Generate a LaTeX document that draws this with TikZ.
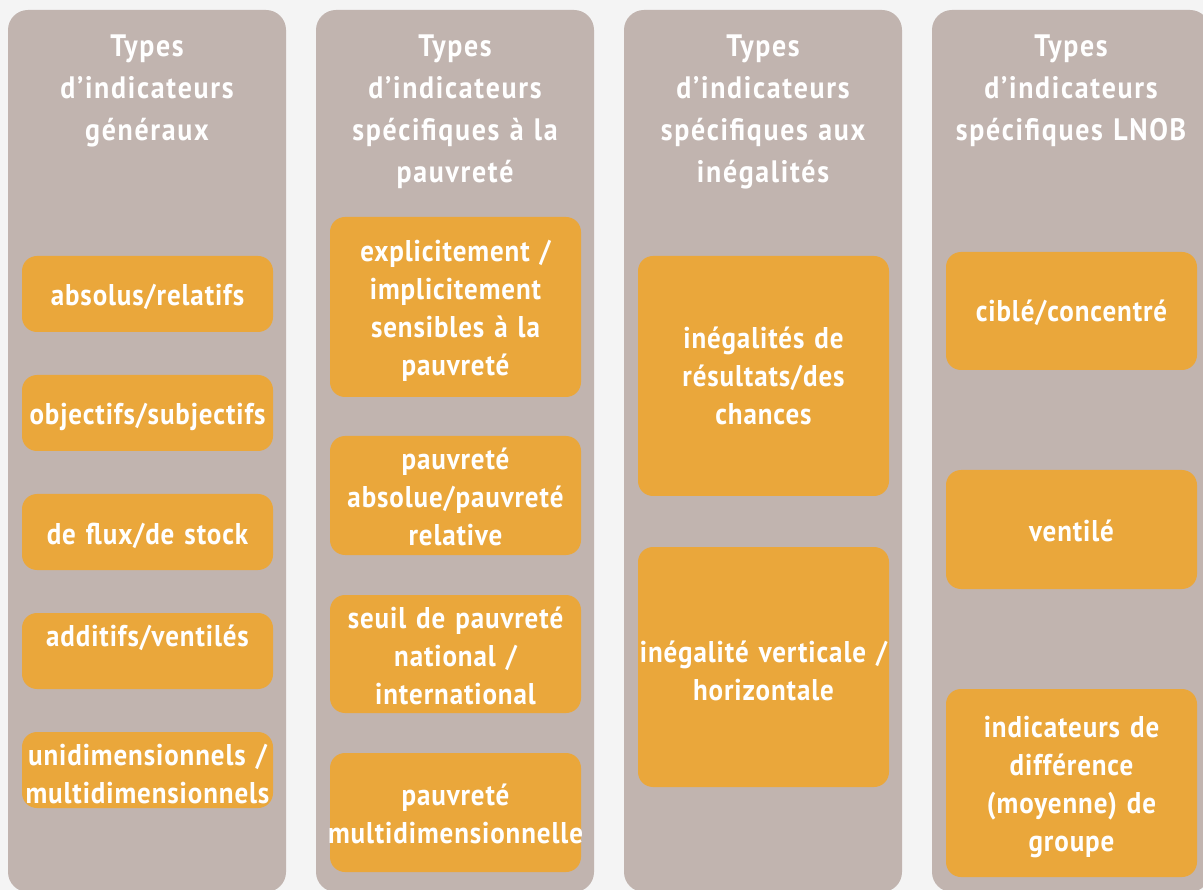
\documentclass[tikz,border=0pt]{standalone}
\usepackage{fontspec}
\setmainfont{PT Sans}[FakeStretch=0.9,LetterSpace=3]
\definecolor{pagebg}{HTML}{F4F4F4}
\definecolor{colbg}{HTML}{C1B4AF}
\definecolor{boxbg}{HTML}{EAA73B}
\begin{document}
\begin{tikzpicture}[x=1pt,y=-1pt,
  column/.style={fill=colbg,rounded corners=20pt},
  itembox/.style={fill=boxbg,rounded corners=15pt},
  headtxt/.style={anchor=base,text=white,text width=276pt,align=center,inner sep=0pt,
    font=\bfseries\fontsize{31}{41.7}\selectfont\addfontfeatures{LetterSpace=5.5}},
  itemtxt/.style={anchor=base,text=white,text width=262pt,align=center,inner sep=0pt,
    font=\bfseries\fontsize{30}{38}\selectfont}]
\fill[pagebg] (0,0) rectangle (1203,890);
\useasboundingbox (0,0) rectangle (1203,890);
% columns
\foreach \cx/\nm in {8/c1,316/c2,624/c3,932/c4}{
  \fill[column] (\cx,10) rectangle ++(278,882);
}
% headers
\node[headtxt] (h1) at (147,57) {Types\\d’indicateurs\\généraux};
\node[headtxt] (h2) at (455,57) {Types\\d’indicateurs\\spécifiques à la\\pauvreté};
\node[headtxt] (h3) at (763,57) {Types\\d’indicateurs\\spécifiques aux\\inégalités};
\node[headtxt] (h4) at (1071,57) {Types\\d’indicateurs\\spécifiques LNOB};
% column 1 boxes
\foreach \y/\nm in {256/a1,375/a2,494/a3,613/a4,732/a5}{
  \fill[itembox] (22,\y) rectangle ++(251,76);
}
\node[itemtxt] (t11) at (147.5,306) {absolus/relatifs};
\node[itemtxt] (t12) at (147.5,425) {objectifs/subjectifs};
\node[itemtxt] (t13) at (147.5,544) {de flux/de stock};
\node[itemtxt] (t14) at (147.5,646) {additifs/ventilés};
\node[itemtxt] (t15) at (147.5,765) {unidimensionnels /\\multidimensionnels};
% column 2 boxes
\fill[itembox] (330,217) rectangle (581,397);
\fill[itembox] (330,436) rectangle (581,555);
\fill[itembox] (330,595) rectangle (581,713);
\fill[itembox] (330,753) rectangle (581,872);
\node[itemtxt] (t21) at (455.5,262) {explicitement /\\implicitement\\sensibles à la\\pauvreté};
\node[itemtxt] (t22) at (455.5,470) {pauvreté\\absolue/pauvreté\\relative};
\node[itemtxt] (t23) at (455.5,628) {seuil de pauvreté\\national /\\international};
\node[itemtxt] (t24) at (455.5,805) {pauvreté\\multidimensionnelle};
% column 3 boxes
\fill[itembox] (638,256) rectangle (889,496);
\fill[itembox] (638,547) rectangle (889,787);
\node[itemtxt] (t31) at (763.5,349) {inégalités de\\résultats/des\\chances};
\node[itemtxt] (t32) at (763.5,662) {inégalité verticale /\\horizontale};
% column 4 boxes
\fill[itembox] (946,252) rectangle (1197,370);
\fill[itembox] (946,470) rectangle (1197,589);
\fill[itembox] (946,689) rectangle (1197,877);
\node[itemtxt] (t41) at (1071.5,322) {ciblé/concentré};
\node[itemtxt] (t42) at (1071.5,542) {ventilé};
\node[itemtxt] (t43) at (1071.5,737) {indicateurs de\\différence\\(moyenne) de\\groupe};
\end{tikzpicture}
\end{document}
